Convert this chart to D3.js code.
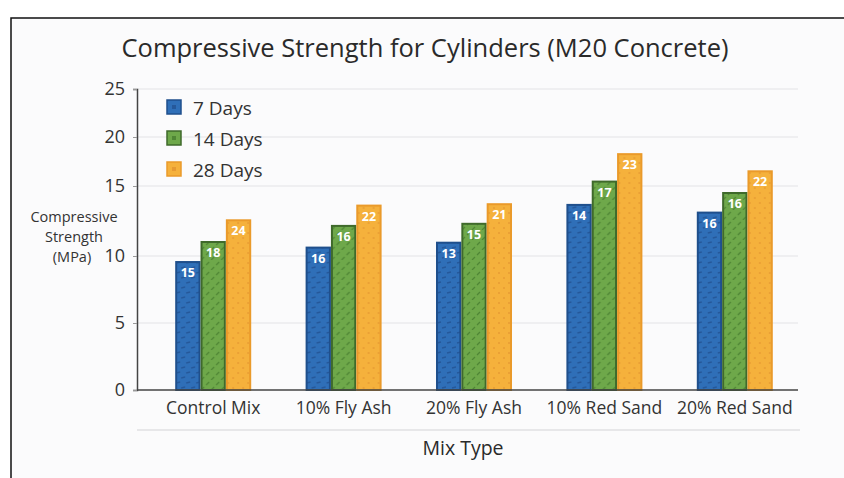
<!DOCTYPE html>
<html lang="en">
	<head>
		<meta charset="utf-8">
		<title>compressive strength</title>
		<script type="text/javascript" src="https://cdn.jsdelivr.net/npm/d3@7"></script>
		<style type="text/css">
			body { margin: 0; background: #ffffff; }
			text { font-family: "Open Sans", sans-serif; fill: #333; }
		</style>
	</head>
	<body>
		<script type="text/javascript">

// data
var mixes = ["Control Mix", "10% Fly Ash", "20% Fly Ash", "10% Red Sand", "20% Red Sand"]
var ages = ["7 Days", "14 Days", "28 Days"]
var days7 = [9.55, 10.6, 10.95, 13.65, 13.1]
var days14 = [11.0, 12.15, 12.3, 15.45, 14.5]
var days28 = [12.55, 13.6, 13.7, 18.25, 16.5]
// the numbers printed on the bars (they do not match the heights)
var labels7 = [15, 16, 13, 14, 16]
var labels14 = [18, 16, 15, 17, 16]
var labels28 = [24, 22, 21, 23, 22]
var yTicks = [0, 5, 10, 15, 20, 25]

var series = [days7, days14, days28]
var seriesLabels = [labels7, labels14, labels28]

var w = 844
var h = 478
var svg = d3.select("body")
			.append("svg")
			.attr("width", w)
			.attr("height", h);

var fills = ["#2f6fb8", "#6ea84a", "#f5b13c"]
var strokes = ["#1f4f8c", "#3f6a2b", "#ea9a2a"]
var marks = ["#25589a", "#4f8635", "#e79a33"]

var defs = svg.append("defs")
// blue: little dashes, green: slashes, orange: dots
var p0 = defs.append("pattern").attr("id", "pat0").attr("patternUnits", "userSpaceOnUse")
	.attr("width", 10).attr("height", 10)
p0.append("rect").attr("width", 10).attr("height", 10).attr("fill", fills[0])
p0.append("path").attr("d", "M1,3 L5,2 M6,8 L10,7").attr("stroke", marks[0]).attr("stroke-width", 1.6)
var p1 = defs.append("pattern").attr("id", "pat1").attr("patternUnits", "userSpaceOnUse")
	.attr("width", 10).attr("height", 10)
p1.append("rect").attr("width", 10).attr("height", 10).attr("fill", fills[1])
p1.append("path").attr("d", "M1,5 L4,2 M6,10 L9,7").attr("stroke", marks[1]).attr("stroke-width", 1.3)
var p2 = defs.append("pattern").attr("id", "pat2").attr("patternUnits", "userSpaceOnUse")
	.attr("width", 10).attr("height", 10)
p2.append("rect").attr("width", 10).attr("height", 10).attr("fill", fills[2])
p2.append("circle").attr("cx", 3).attr("cy", 3).attr("r", 0.9).attr("fill", marks[2])
p2.append("circle").attr("cx", 8).attr("cy", 8).attr("r", 0.9).attr("fill", marks[2])

// frame
svg.append("rect").attr("x", 11).attr("y", 18).attr("width", w).attr("height", h)
	.attr("fill", "#fbfbfc").attr("stroke", "#111").attr("stroke-width", 1.5)

svg.append("text").text("Compressive Strength for Cylinders (M20 Concrete)")
	.attr("x", 425).attr("y", 57).attr("text-anchor", "middle")
	.attr("font-size", "25.5px").attr("fill", "#2a2a2a").style("fill", "#2a2a2a")

var left = 137, right = 798
// the printed axis is not evenly spaced, so the scale has one stop per tick
var y = d3.scaleLinear().domain(yTicks).range([390, 323, 256, 186, 137, 89])
var x = d3.scaleBand().domain(mixes).range([148, 800])
var groupW = 76
var xs = d3.scaleBand().domain(ages).range([0, groupW])

// grid
svg.selectAll(".grid")
	.data(yTicks.slice(1))
	.enter()
	.append("line")
	.attr("x1", left).attr("x2", right)
	.attr("y1", function(d) { return y(d) })
	.attr("y2", function(d) { return y(d) })
	.attr("stroke", "#e4e4e6").attr("stroke-width", 1.2)

var yAxis = d3.axisLeft(y).tickValues(yTicks).tickSize(4).tickPadding(8)
var gy = svg.append("g").attr("transform", "translate(" + left + ",0)").call(yAxis)
gy.select(".domain").attr("stroke", "#444").attr("stroke-width", 1.5)
gy.selectAll(".tick line").attr("stroke", "#999")
gy.selectAll(".tick text").attr("font-size", "18px").style("font-family", "Open Sans, sans-serif").attr("fill", "#333")

var ylab = svg.append("text").attr("text-anchor", "middle").attr("font-size", "14.5px").attr("fill", "#333")
ylab.append("tspan").attr("x", 74).attr("y", 222).text("Compressive")
ylab.append("tspan").attr("x", 74).attr("y", 242).text("Strength")
ylab.append("tspan").attr("x", 72).attr("y", 262).text("(MPa)")

// bars
var groups = svg.selectAll(".group")
	.data(mixes)
	.enter()
	.append("g")
	.attr("transform", function(d) {
		return "translate(" + (x(d) + x.bandwidth() / 2 - groupW / 2) + ",0)"
	})

groups.selectAll("rect")
	.data(function(d, i) {
		return ages.map(function(a, j) { return {age: a, s: j, v: series[j][i], lab: seriesLabels[j][i]} })
	})
	.enter()
	.append("rect")
	.attr("x", function(d) { return xs(d.age) + 1 })
	.attr("y", function(d) { return y(d.v) })
	.attr("width", xs.bandwidth() - 2)
	.attr("height", function(d) { return y(0) - y(d.v) })
	.attr("fill", function(d) { return "url(#pat" + d.s + ")" })
	.attr("stroke", function(d) { return strokes[d.s] })
	.attr("stroke-width", 2)

groups.selectAll(".lab")
	.data(function(d, i) {
		return ages.map(function(a, j) { return {age: a, s: j, v: series[j][i], lab: seriesLabels[j][i]} })
	})
	.enter()
	.append("text")
	.text(function(d) { return d.lab })
	.attr("x", function(d) { return xs(d.age) + xs.bandwidth() / 2 })
	.attr("y", function(d) { return y(d.v) + 15 })
	.attr("text-anchor", "middle")
	.attr("font-size", "12.5px").attr("font-weight", "bold")
	.attr("fill", "#ffffff").style("fill", "#ffffff")

// x axis
svg.append("line").attr("x1", left).attr("x2", right).attr("y1", y(0)).attr("y2", y(0))
	.attr("stroke", "#444").attr("stroke-width", 1.5)

svg.selectAll(".xl")
	.data(mixes)
	.enter()
	.append("text")
	.text(function(d) { return d })
	.attr("x", function(d) { return x(d) + x.bandwidth() / 2 })
	.attr("y", 414)
	.attr("text-anchor", "middle")
	.attr("font-size", "17.5px").attr("fill", "#333")

svg.append("line").attr("x1", left).attr("x2", 800).attr("y1", 430).attr("y2", 430)
	.attr("stroke", "#d4d4d6").attr("stroke-width", 1.2)

svg.append("text").text("Mix Type").attr("x", 463).attr("y", 455).attr("text-anchor", "middle")
	.attr("font-size", "19.5px").attr("fill", "#2a2a2a").style("fill", "#2a2a2a")

// legend
var leg = svg.selectAll(".leg")
	.data(ages)
	.enter()
	.append("g")
	.attr("transform", function(d, i) { return "translate(167," + (100 + i * 31) + ")" })
leg.append("rect").attr("width", 14).attr("height", 14)
	.attr("fill", function(d, i) { return fills[i] })
	.attr("stroke", function(d, i) { return strokes[i] }).attr("stroke-width", 1.5)
leg.append("rect").attr("x", 5).attr("y", 5).attr("width", 4).attr("height", 4)
	.attr("fill", function(d, i) { return marks[i] })
leg.append("text").text(function(d) { return d })
	.attr("x", 26).attr("y", 14.5).attr("font-size", "19px").attr("fill", "#333")

		</script>
	</body>
</html>
